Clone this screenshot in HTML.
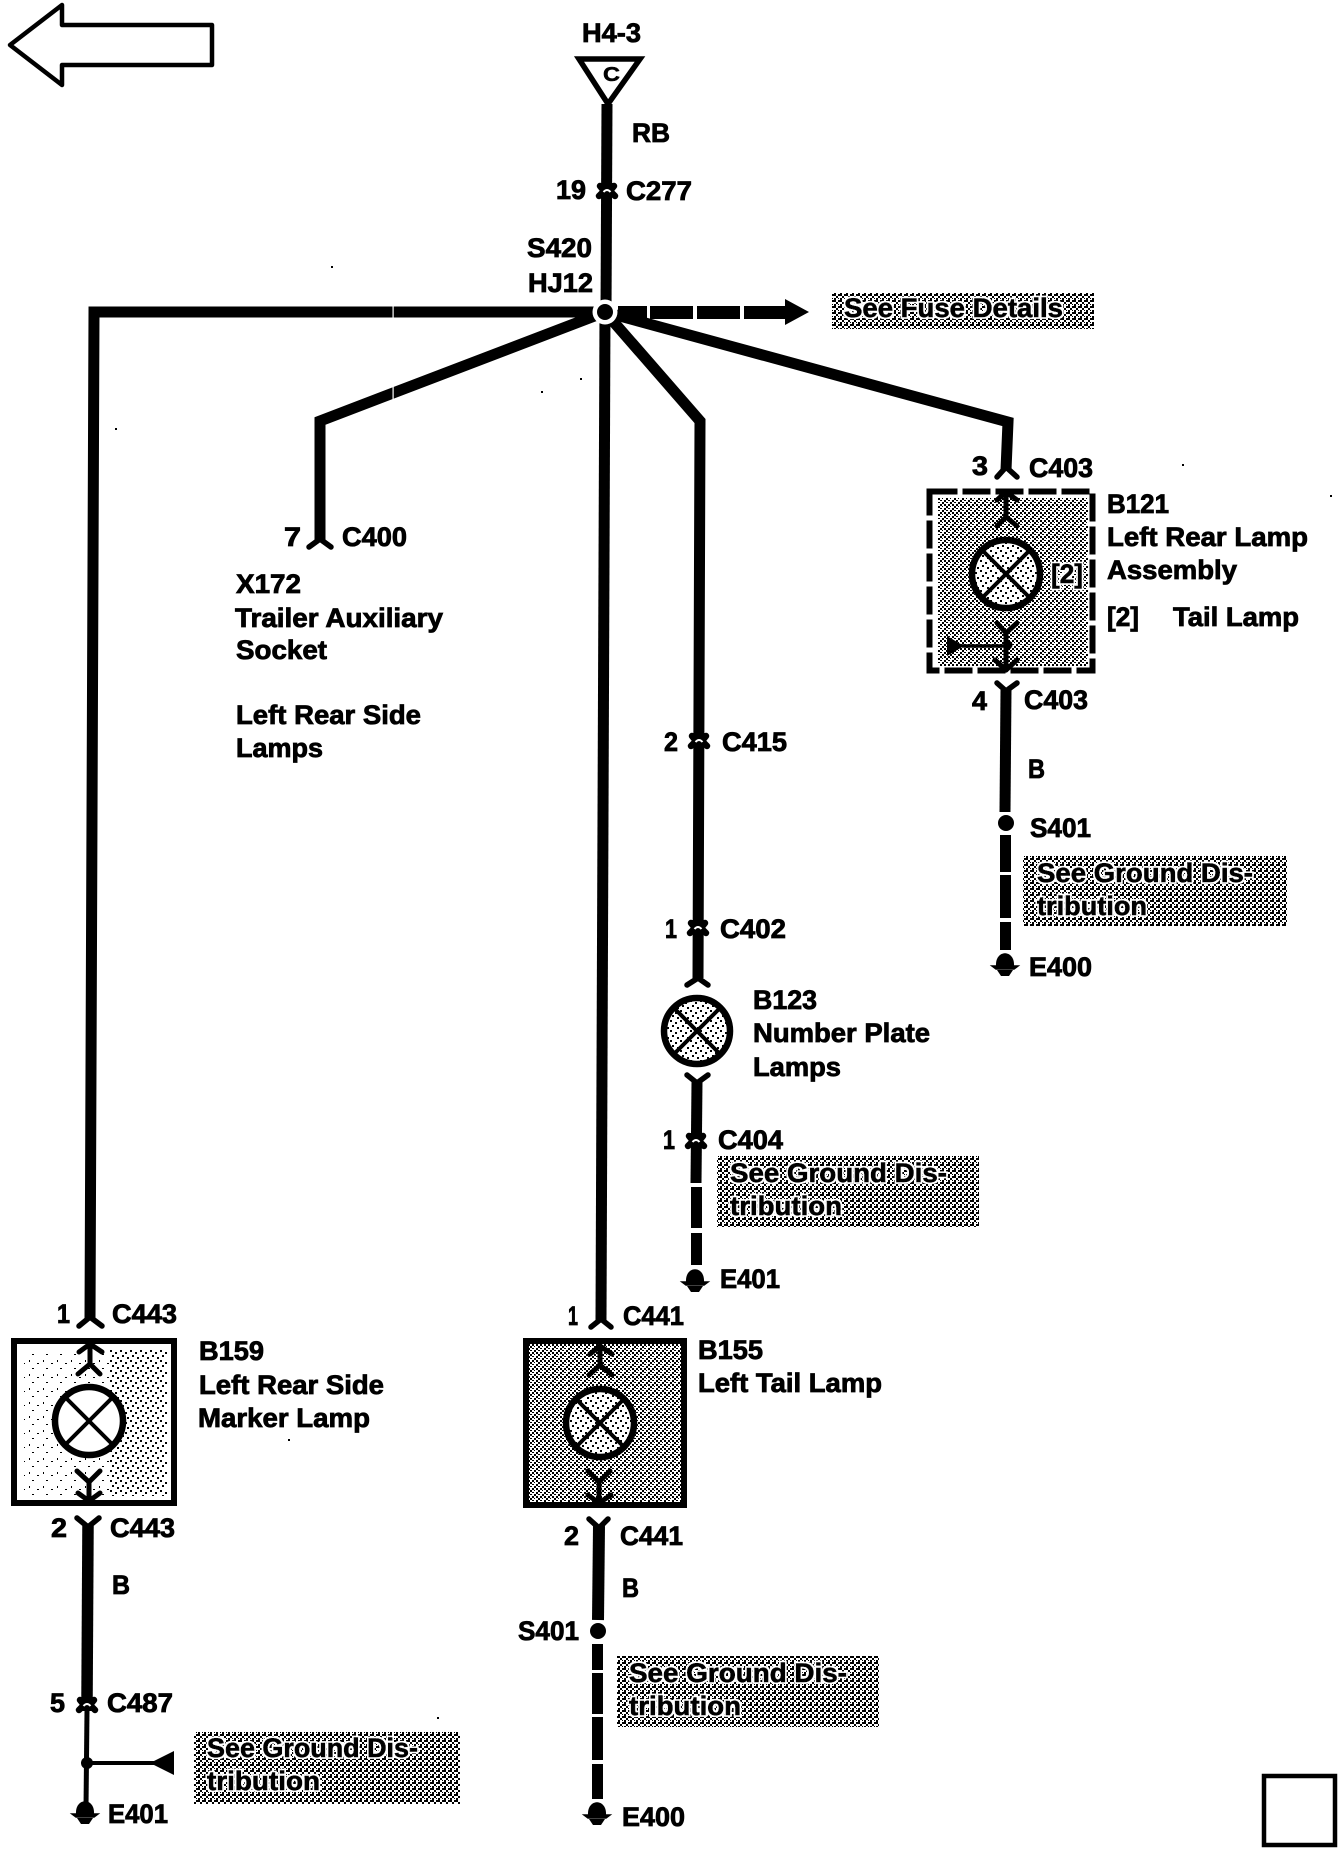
<!DOCTYPE html>
<html>
<head>
<meta charset="utf-8">
<style>
html,body{margin:0;padding:0;background:#fff}
svg{display:block}
text{font-family:"Liberation Sans",Arial,sans-serif;font-weight:700;font-size:26.5px;fill:#000;stroke:#000;stroke-width:.8px}
.h text{filter:url(#halo)}
.w{fill:none;stroke:#000;stroke-width:11}
.a{fill:none;stroke:#000;stroke-width:5;stroke-linecap:round;stroke-linejoin:round}
</style>
</head>
<body>
<svg xmlns="http://www.w3.org/2000/svg" width="1344" height="1854" viewBox="0 0 1344 1854">
<defs>
<filter id="halo" x="-5%" y="-20%" width="110%" height="140%"><feMorphology in="SourceAlpha" operator="dilate" radius="1.400" result="d"/><feFlood flood-color="#fff"/><feComposite in2="d" operator="in" result="w"/><feMerge><feMergeNode in="w"/><feMergeNode in="SourceGraphic"/></feMerge></filter>
<pattern id="pd" width="6" height="6" patternUnits="userSpaceOnUse"><rect width="6" height="6" fill="#fff"/><path shape-rendering="crispEdges" d="M0 0h2v2H0zM2 2h2v2H2zM4 0h2v2H4zM0 4h2v2H0zM4 4h1v1H4z"/></pattern>
<pattern id="pm" width="8" height="8" patternUnits="userSpaceOnUse"><rect width="8" height="8" fill="#fff"/><path shape-rendering="crispEdges" d="M0 0h2v2H0zM4 0h2v2H4zM2 2h2v2H2zM6 2h1v1H6zM0 4h2v2H0zM4 4h2v1H4zM2 6h2v1H2zM6 6h2v2H6z"/></pattern>
<pattern id="pl" width="10" height="10" patternUnits="userSpaceOnUse"><rect width="10" height="10" fill="#fff"/><path shape-rendering="crispEdges" d="M0 0h2v2H0zM5 2h2v2H5zM2 5h2v2H2zM7 7h2v2H7z"/></pattern>
<pattern id="pv" width="14" height="14" patternUnits="userSpaceOnUse"><rect width="14" height="14" fill="#fff"/><path shape-rendering="crispEdges" d="M1 2h1v2H1zM9 5h2v1H9zM4 10h2v1H4z"/></pattern>
<g id="conn"><path d="M-8 6 L-3 1 L-7 -4 M8 6 L3 1 L7 -4" fill="none" stroke="#000" stroke-width="6.500" stroke-linecap="round"/><rect x="-6" y="-7" width="12" height="14"/><path d="M-3.500 2 Q0 -2 3.500 2" fill="none" stroke="#fff" stroke-width="2"/></g>
<g id="gnd"><path d="M-9 -1 C-10 -18 10 -18 9 -1 Z"/><path d="M-13 -1 L13 -1 L9 2 L-9 2Z" stroke="#000" stroke-width="1.500"/><path d="M-8 3H8L4 9H-4Z"/></g>
</defs>

<!-- back arrow -->
<polygon points="10,45 62,5 62,25 212,25 212,65 62,65 62,85" fill="#fff" stroke="#000" stroke-width="4.500" stroke-linejoin="round"/>

<!-- top -->
<polygon points="579,59 640,59 608,104" fill="#fff" stroke="#000" stroke-width="5.500"/>
<text x="582" y="42" textLength="59" lengthAdjust="spacingAndGlyphs">H4-3</text>
<text x="603" y="81" textLength="17" lengthAdjust="spacingAndGlyphs" style="font-size:20px;stroke-width:.5px">C</text>
<line class="w" x1="607" y1="104" x2="606" y2="312"/>
<use href="#conn" x="607" y="190"/>
<text x="632" y="142" textLength="38" lengthAdjust="spacingAndGlyphs">RB</text>
<text x="556" y="199" textLength="30" lengthAdjust="spacingAndGlyphs">19</text>
<text x="626" y="200" textLength="66" lengthAdjust="spacingAndGlyphs">C277</text>
<text x="527" y="257" textLength="65" lengthAdjust="spacingAndGlyphs">S420</text>
<text x="528" y="292" textLength="65" lengthAdjust="spacingAndGlyphs">HJ12</text>

<!-- fans from node -->
<polyline class="w" points="605,312 94,312 90,1320" style="stroke-linejoin:miter"/>
<polyline class="w" points="605,312 320,421 320,540"/>
<polyline class="w" points="605,312 700,421 698,978"/>
<polyline class="w" points="605,312 1008,422 1006,470"/>
<line class="w" x1="605" y1="312" x2="601" y2="1320"/>
<rect x="392.500" y="305" width="1.200" height="13" fill="#fff"/>
<rect x="392.500" y="380" width="1.200" height="30" fill="#fff"/>
<!-- dashed to fuse details -->
<g fill="#000">
<rect x="618" y="306" width="29" height="13"/>
<rect x="650" y="306" width="43" height="13"/>
<rect x="697" y="306" width="43" height="13"/>
<rect x="744" y="306" width="43" height="13"/>
<polygon points="785,299 809,312 785,325"/>
</g>
<circle cx="605" cy="312" r="12.500" fill="#fff"/>
<circle cx="605" cy="312" r="8" fill="#000"/>
<rect x="832" y="293" width="262" height="36" fill="url(#pd)"/>
<g class="h"><text x="844" y="317" textLength="219" lengthAdjust="spacingAndGlyphs">See Fuse Details</text></g>

<!-- C400 / X172 -->
<polyline class="a" style="stroke-width:5.500" points="309,547 320,539 331,547"/>
<text x="284" y="546" textLength="17" lengthAdjust="spacingAndGlyphs">7</text>
<text x="342" y="546" textLength="65" lengthAdjust="spacingAndGlyphs">C400</text>
<text x="236" y="593" textLength="65" lengthAdjust="spacingAndGlyphs">X172</text>
<text x="235" y="627" textLength="208" lengthAdjust="spacingAndGlyphs">Trailer Auxiliary</text>
<text x="236" y="659" textLength="91" lengthAdjust="spacingAndGlyphs">Socket</text>
<text x="236" y="724" textLength="185" lengthAdjust="spacingAndGlyphs">Left Rear Side</text>
<text x="236" y="757" textLength="87" lengthAdjust="spacingAndGlyphs">Lamps</text>

<!-- B121 -->
<polyline class="a" style="stroke-width:5.500" points="997,477 1006,467 1017,477"/>
<text x="972" y="475" textLength="16" lengthAdjust="spacingAndGlyphs">3</text>
<text x="1029" y="477" textLength="64" lengthAdjust="spacingAndGlyphs">C403</text>
<rect x="938" y="498" width="150" height="168" fill="url(#pm)"/>
<rect x="929.500" y="491.500" width="163" height="179" fill="none" stroke="#000" stroke-width="6" stroke-dasharray="28 5"/>
<circle cx="1006" cy="574" r="34" fill="url(#pl)" stroke="#000" stroke-width="6.500"/>
<path class="a" style="stroke-width:4" d="M982 550L1030 598M1030 550L982 598"/>
<polyline class="a" points="997,500 1006,492 1017,500"/>
<polyline class="a" points="1006,492 1006,517"/>
<polyline class="a" points="997,526 1006,517 1017,526"/>
<polyline class="a" points="997,623 1006,633 1017,623"/>
<polyline class="a" points="1006,633 1006,670"/>
<polyline class="a" points="995,660 1006,670 1017,660"/>
<polygon points="947,636 947,656 964,646"/>
<line x1="962" y1="646" x2="1008" y2="646" stroke="#000" stroke-width="3.500"/>
<circle cx="1008" cy="645" r="4.500"/>
<g class="h"><text x="1051" y="583" textLength="32" lengthAdjust="spacingAndGlyphs">[2]</text></g>
<text x="1107" y="513" textLength="62" lengthAdjust="spacingAndGlyphs">B121</text>
<text x="1107" y="546" textLength="201" lengthAdjust="spacingAndGlyphs">Left Rear Lamp</text>
<text x="1107" y="579" textLength="130" lengthAdjust="spacingAndGlyphs">Assembly</text>
<text x="1107" y="626" textLength="32" lengthAdjust="spacingAndGlyphs">[2]</text>
<text x="1173" y="626" textLength="126" lengthAdjust="spacingAndGlyphs">Tail Lamp</text>
<polyline class="a" style="stroke-width:5.500" points="997,683 1006,691 1017,683"/>
<text x="972" y="710" textLength="15" lengthAdjust="spacingAndGlyphs">4</text>
<text x="1024" y="709" textLength="64" lengthAdjust="spacingAndGlyphs">C403</text>
<line class="w" x1="1006" y1="690" x2="1005" y2="812"/>
<text x="1028" y="778" textLength="17" lengthAdjust="spacingAndGlyphs">B</text>
<circle cx="1006" cy="823" r="8"/>
<text x="1030" y="837" textLength="61" lengthAdjust="spacingAndGlyphs">S401</text>
<g fill="#000"><rect x="1000" y="835" width="11" height="37"/><rect x="1000" y="875" width="11" height="43"/><rect x="1000" y="922" width="11" height="28"/></g>
<rect x="1023" y="856" width="264" height="70" fill="url(#pd)"/>
<g class="h"><text x="1037" y="882" textLength="216" lengthAdjust="spacingAndGlyphs">See Ground Dis-</text>
<text x="1037" y="915" textLength="110" lengthAdjust="spacingAndGlyphs">tribution</text></g>
<use href="#gnd" x="1005" y="967"/>
<text x="1029" y="976" textLength="63" lengthAdjust="spacingAndGlyphs">E400</text>

<!-- B123 column -->
<use href="#conn" x="699" y="740"/>
<use href="#conn" x="698" y="927"/>
<polyline class="a" style="stroke-width:5.500" points="687,985 698,978 708,985"/>
<text x="664" y="751" textLength="14" lengthAdjust="spacingAndGlyphs">2</text>
<text x="722" y="751" textLength="65" lengthAdjust="spacingAndGlyphs">C415</text>
<text x="665" y="938" textLength="12" lengthAdjust="spacingAndGlyphs">1</text>
<text x="720" y="938" textLength="66" lengthAdjust="spacingAndGlyphs">C402</text>
<circle cx="697" cy="1031" r="33" fill="url(#pl)" stroke="#000" stroke-width="6.500"/>
<path class="a" style="stroke-width:4" d="M674 1008L720 1054M720 1008L674 1054"/>
<text x="753" y="1009" textLength="64" lengthAdjust="spacingAndGlyphs">B123</text>
<text x="753" y="1042" textLength="177" lengthAdjust="spacingAndGlyphs">Number Plate</text>
<text x="753" y="1076" textLength="88" lengthAdjust="spacingAndGlyphs">Lamps</text>
<polyline class="a" style="stroke-width:5.500" points="687,1075 697,1083 708,1075"/>
<line class="w" x1="697" y1="1082" x2="696" y2="1183"/>
<use href="#conn" x="696" y="1140"/>
<text x="663" y="1149" textLength="12" lengthAdjust="spacingAndGlyphs">1</text>
<text x="718" y="1149" textLength="65" lengthAdjust="spacingAndGlyphs">C404</text>
<g fill="#000"><rect x="691" y="1187" width="11" height="41"/><rect x="691" y="1233" width="11" height="32"/></g>
<rect x="717" y="1156" width="262" height="71" fill="url(#pd)"/>
<g class="h"><text x="730" y="1182" textLength="217" lengthAdjust="spacingAndGlyphs">See Ground Dis-</text>
<text x="730" y="1215" textLength="112" lengthAdjust="spacingAndGlyphs">tribution</text></g>
<use href="#gnd" x="695" y="1283"/>
<text x="720" y="1288" textLength="60" lengthAdjust="spacingAndGlyphs">E401</text>

<!-- B159 -->
<polyline class="a" style="stroke-width:5.500" points="79,1326 90,1317 102,1326"/>
<text x="57" y="1323" textLength="13" lengthAdjust="spacingAndGlyphs">1</text>
<text x="112" y="1323" textLength="65" lengthAdjust="spacingAndGlyphs">C443</text>
<rect x="14" y="1341" width="160" height="162" fill="#fff" stroke="#000" stroke-width="6"/>
<rect x="24" y="1350" width="143" height="146" fill="url(#pv)"/>
<rect x="110" y="1350" width="57" height="146" fill="url(#pl)"/>
<circle cx="89" cy="1421" r="34" fill="#fff" stroke="#000" stroke-width="6.500"/>
<path class="a" style="stroke-width:4" d="M66 1398L112 1444M112 1398L66 1444"/>
<polyline class="a" points="79,1352 90,1344 102,1352"/>
<polyline class="a" points="90,1344 90,1364"/>
<polyline class="a" points="78,1374 90,1364 100,1374"/>
<polyline class="a" points="77,1471 89,1482 100,1471"/>
<polyline class="a" points="89,1482 89,1500"/>
<polyline class="a" points="78,1493 89,1501 100,1493"/>
<text x="199" y="1360" textLength="65" lengthAdjust="spacingAndGlyphs">B159</text>
<text x="199" y="1394" textLength="185" lengthAdjust="spacingAndGlyphs">Left Rear Side</text>
<text x="198" y="1427" textLength="172" lengthAdjust="spacingAndGlyphs">Marker Lamp</text>
<polyline class="a" style="stroke-width:5.500" points="77,1518 88,1527 99,1518"/>
<text x="51" y="1537" textLength="16" lengthAdjust="spacingAndGlyphs">2</text>
<text x="110" y="1537" textLength="65" lengthAdjust="spacingAndGlyphs">C443</text>
<line class="w" style="stroke-width:11.500" x1="88" y1="1526" x2="87" y2="1700"/>
<text x="112" y="1594" textLength="18" lengthAdjust="spacingAndGlyphs">B</text>
<use href="#conn" x="87" y="1704"/>
<text x="50" y="1712" textLength="15" lengthAdjust="spacingAndGlyphs">5</text>
<text x="107" y="1712" textLength="66" lengthAdjust="spacingAndGlyphs">C487</text>
<line x1="87" y1="1710" x2="86" y2="1808" stroke="#000" stroke-width="5"/>
<circle cx="87" cy="1763" r="6"/>
<line x1="87" y1="1763" x2="155" y2="1763" stroke="#000" stroke-width="4"/>
<polygon points="174,1751 174,1775 150,1763"/>
<rect x="194" y="1732" width="266" height="72" fill="url(#pd)"/>
<g class="h"><text x="207" y="1757" textLength="211" lengthAdjust="spacingAndGlyphs">See Ground Dis-</text>
<text x="207" y="1790" textLength="113" lengthAdjust="spacingAndGlyphs">tribution</text></g>
<use href="#gnd" x="85" y="1815"/>
<text x="108" y="1823" textLength="60" lengthAdjust="spacingAndGlyphs">E401</text>

<!-- B155 -->
<polyline class="a" style="stroke-width:5.500" points="591,1327 601,1319 611,1327"/>
<text x="568" y="1325" textLength="10" lengthAdjust="spacingAndGlyphs">1</text>
<text x="623" y="1325" textLength="61" lengthAdjust="spacingAndGlyphs">C441</text>
<rect x="526" y="1341" width="158" height="164" fill="url(#pm)" stroke="#000" stroke-width="6"/>
<circle cx="600" cy="1423" r="34" fill="url(#pl)" stroke="#000" stroke-width="6.500"/>
<path class="a" style="stroke-width:4" d="M577 1400L623 1446M623 1400L577 1446"/>
<polyline class="a" points="590,1354 600,1346 612,1354"/>
<polyline class="a" points="600,1346 600,1365"/>
<polyline class="a" points="589,1375 600,1365 612,1375"/>
<polyline class="a" points="588,1471 599,1482 610,1471"/>
<polyline class="a" points="599,1482 599,1502"/>
<polyline class="a" points="588,1495 599,1503 611,1495"/>
<text x="698" y="1359" textLength="65" lengthAdjust="spacingAndGlyphs">B155</text>
<text x="698" y="1392" textLength="184" lengthAdjust="spacingAndGlyphs">Left Tail Lamp</text>
<polyline class="a" style="stroke-width:5.500" points="589,1519 599,1528 608,1519"/>
<text x="564" y="1545" textLength="15" lengthAdjust="spacingAndGlyphs">2</text>
<text x="620" y="1545" textLength="63" lengthAdjust="spacingAndGlyphs">C441</text>
<line class="w" style="stroke-width:12" x1="599" y1="1526" x2="598" y2="1620"/>
<text x="622" y="1597" textLength="17" lengthAdjust="spacingAndGlyphs">B</text>
<circle cx="598" cy="1631" r="8"/>
<text x="518" y="1640" textLength="61" lengthAdjust="spacingAndGlyphs">S401</text>
<g fill="#000"><rect x="592" y="1644" width="11" height="26"/><rect x="592" y="1673" width="11" height="41"/><rect x="592" y="1717" width="11" height="43"/><rect x="592" y="1764" width="11" height="35"/></g>
<rect x="617" y="1656" width="262" height="71" fill="url(#pd)"/>
<g class="h"><text x="629" y="1682" textLength="218" lengthAdjust="spacingAndGlyphs">See Ground Dis-</text>
<text x="629" y="1715" textLength="112" lengthAdjust="spacingAndGlyphs">tribution</text></g>
<use href="#gnd" x="597" y="1816"/>
<text x="622" y="1826" textLength="63" lengthAdjust="spacingAndGlyphs">E400</text>

<!-- bottom-right box -->
<rect x="1264" y="1776" width="71" height="69" fill="#fff" stroke="#000" stroke-width="4.500"/>

<!-- specks -->
<g fill="#000"><rect x="331" y="266" width="2" height="2"/><rect x="580" y="378" width="2" height="2"/><rect x="541" y="391" width="2" height="2"/><rect x="115" y="428" width="2" height="2"/><rect x="1182" y="464" width="2" height="2"/><rect x="1330" y="495" width="2" height="2"/><rect x="288" y="1439" width="2" height="2"/><rect x="437" y="1717" width="2" height="2"/></g>
</svg>
</body>
</html>
